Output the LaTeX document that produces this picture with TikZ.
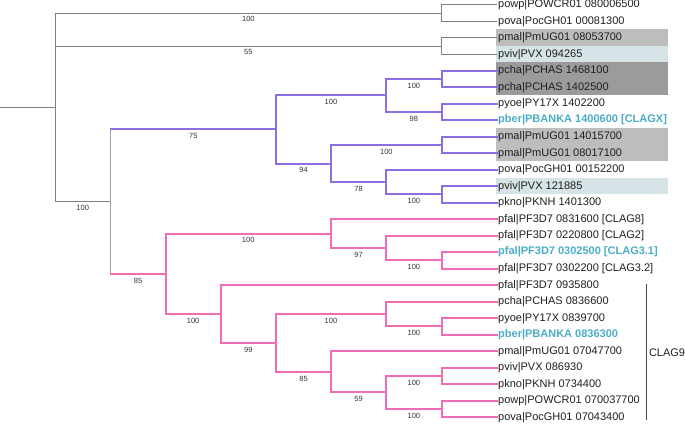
\documentclass[tikz,border=0pt]{standalone}
\usepackage{fontspec}
\setmainfont{Liberation Sans}
\definecolor{clpurple}{HTML}{8B6FE3}
\definecolor{clpink}{HTML}{F06DB6}
\definecolor{clcyan}{HTML}{4AADC6}
\definecolor{clgrayline}{HTML}{808080}
\definecolor{clgraylight}{HTML}{A0A0A0}
\definecolor{boxgray}{HTML}{BDBDBD}
\definecolor{boxdark}{HTML}{9B9B9B}
\definecolor{boxblue}{HTML}{D6E4E7}
\begin{document}
\begin{tikzpicture}[x=1pt,y=-1pt,line cap=rect,
 leaf/.style={anchor=west, inner sep=1pt, font=\fontsize{11}{13}\selectfont, text=black!88},
 hl/.style={leaf, text=clcyan, font=\fontsize{11}{13}\selectfont\bfseries},
 sup/.style={below, inner sep=3pt, font=\fontsize{7.5}{9}\selectfont, text=black!80},
 gr/.style={draw=clgrayline, line width=0.9pt},
 grl/.style={draw=clgraylight, line width=1.4pt},
 pu/.style={draw=clpurple, line width=2pt},
 pk/.style={draw=clpink, line width=2pt}
]
\useasboundingbox (0,0) rectangle (685,423);
% background boxes
\fill[boxgray] (495.7,29.45) rectangle (668.3,45.95);
\fill[boxblue] (495.7,45.95) rectangle (668.3,62.45);
\fill[boxdark] (495.7,62.45) rectangle (668.3,95.45);
\fill[boxgray] (495.7,128.45) rectangle (668.3,161.45);
\fill[boxblue] (495.7,177.95) rectangle (668.3,194.45);
% leaves
\node[leaf] (l0) at (497,4.7) {powp|POWCR01 080006500};
\node[leaf] (l1) at (497,21.2) {pova|PocGH01 00081300};
\node[leaf] (l2) at (497,37.7) {pmal|PmUG01 08053700};
\node[leaf] (l3) at (497,54.2) {pviv|PVX 094265};
\node[leaf] (l4) at (497,70.7) {pcha|PCHAS 1468100};
\node[leaf] (l5) at (497,87.2) {pcha|PCHAS 1402500};
\node[leaf] (l6) at (497,103.7) {pyoe|PY17X 1402200};
\node[hl] (l7) at (497,120.2) {pber|PBANKA 1400600 [CLAGX]};
\node[leaf] (l8) at (497,136.7) {pmal|PmUG01 14015700};
\node[leaf] (l9) at (497,153.2) {pmal|PmUG01 08017100};
\node[leaf] (l10) at (497,169.7) {pova|PocGH01 00152200};
\node[leaf] (l11) at (497,186.2) {pviv|PVX 121885};
\node[leaf] (l12) at (497,202.7) {pkno|PKNH 1401300};
\node[leaf] (l13) at (497,219.2) {pfal|PF3D7 0831600 [CLAG8]};
\node[leaf] (l14) at (497,235.7) {pfal|PF3D7 0220800 [CLAG2]};
\node[hl] (l15) at (497,252.2) {pfal|PF3D7 0302500 [CLAG3.1]};
\node[leaf] (l16) at (497,268.7) {pfal|PF3D7 0302200 [CLAG3.2]};
\node[leaf] (l17) at (497,285.2) {pfal|PF3D7 0935800};
\node[leaf] (l18) at (497,301.7) {pcha|PCHAS 0836600};
\node[leaf] (l19) at (497,318.2) {pyoe|PY17X 0839700};
\node[hl] (l20) at (497,334.7) {pber|PBANKA 0836300};
\node[leaf] (l21) at (497,351.2) {pmal|PmUG01 07047700};
\node[leaf] (l22) at (497,367.7) {pviv|PVX 086930};
\node[leaf] (l23) at (497,384.2) {pkno|PKNH 0734400};
\node[leaf] (l24) at (497,400.7) {powp|POWCR01 070037700};
\node[leaf] (l25) at (497,417.2) {pova|PocGH01 07043400};
% CLAG9 bracket
\coordinate (bt) at (646.7,284);
\coordinate (bb) at (646.7,420);
\draw[draw=black!70, line width=0.9pt, line cap=butt] (bt) -- (bb);
\node[anchor=west, inner sep=0pt, font=\fontsize{11}{13}\selectfont, text=black!88] (clag9) at (648.8,352.3) {CLAG9};
% internal nodes
\coordinate (r0) at (0,107.31);
\coordinate (root) at (55,107.31);
\coordinate (nA) at (441.7,12.95);
\coordinate (nB) at (441.7,45.95);
\coordinate (nC) at (110.5,201.67);
\coordinate (nP) at (276,129.48);
\coordinate (nP1) at (386,95.45);
\coordinate (nP1a) at (441.7,78.95);
\coordinate (nP1b) at (441.7,111.95);
\coordinate (nP2) at (331,163.51);
\coordinate (nP2a) at (441.7,144.95);
\coordinate (nP2b) at (386,182.075);
\coordinate (nP2c) at (441.7,194.45);
\coordinate (nK) at (165.5,273.86);
\coordinate (nK1) at (331,233.64);
\coordinate (nK1a) at (386,248.075);
\coordinate (nK1b) at (441.7,260.45);
\coordinate (nK2) at (220.7,314.075);
\coordinate (nK3) at (276,342.95);
\coordinate (nK4) at (386,314.075);
\coordinate (nK4a) at (441.7,326.45);
\coordinate (nK5) at (331,371.825);
\coordinate (nK6) at (386,392.45);
\coordinate (nK6a) at (441.7,375.95);
\coordinate (nK6b) at (441.7,408.95);
% gray part
\draw[gr] (r0) -- (root);
\draw[gr] (root |- nA) -- (root |- nC);
\draw[gr] (root |- nA) -- node[sup]{100} (nA);
\draw[gr] (root |- nB) -- node[sup]{55} (nB);
\draw[gr] (root |- nC) -- node[sup]{100} (nC);
\draw[gr] (nA |- l0.west) -- (nA |- l1.west);
\draw[gr] (nA |- l0.west) -- (l0.west);
\draw[gr] (nA |- l1.west) -- (l1.west);
\draw[gr] (nB |- l2.west) -- (nB |- l3.west);
\draw[gr] (nB |- l2.west) -- (l2.west);
\draw[gr] (nB |- l3.west) -- (l3.west);
\draw[grl] (nC |- nP) -- (nC |- nK);
% purple clade
\draw[pu] (nC |- nP) -- node[sup]{75} (nP);
\draw[pu] (nP |- nP1) -- (nP |- nP2);
\draw[pu] (nP |- nP1) -- node[sup]{100} (nP1);
\draw[pu] (nP |- nP2) -- node[sup]{94} (nP2);
\draw[pu] (nP1 |- nP1a) -- (nP1 |- nP1b);
\draw[pu] (nP1 |- nP1a) -- node[sup]{100} (nP1a);
\draw[pu] (nP1 |- nP1b) -- node[sup]{98} (nP1b);
\draw[pu] (nP1a |- l4.west) -- (nP1a |- l5.west);
\draw[pu] (nP1a |- l4.west) -- (l4.west);
\draw[pu] (nP1a |- l5.west) -- (l5.west);
\draw[pu] (nP1b |- l6.west) -- (nP1b |- l7.west);
\draw[pu] (nP1b |- l6.west) -- (l6.west);
\draw[pu] (nP1b |- l7.west) -- (l7.west);
\draw[pu] (nP2 |- nP2a) -- (nP2 |- nP2b);
\draw[pu] (nP2 |- nP2a) -- node[sup]{100} (nP2a);
\draw[pu] (nP2 |- nP2b) -- node[sup]{78} (nP2b);
\draw[pu] (nP2a |- l8.west) -- (nP2a |- l9.west);
\draw[pu] (nP2a |- l8.west) -- (l8.west);
\draw[pu] (nP2a |- l9.west) -- (l9.west);
\draw[pu] (nP2b |- l10.west) -- (nP2b |- nP2c);
\draw[pu] (nP2b |- l10.west) -- (l10.west);
\draw[pu] (nP2b |- nP2c) -- node[sup]{100} (nP2c);
\draw[pu] (nP2c |- l11.west) -- (nP2c |- l12.west);
\draw[pu] (nP2c |- l11.west) -- (l11.west);
\draw[pu] (nP2c |- l12.west) -- (l12.west);
% pink clade
\draw[pk] (nC |- nK) -- node[sup]{85} (nK);
\draw[pk] (nK |- nK1) -- (nK |- nK2);
\draw[pk] (nK |- nK1) -- node[sup]{100} (nK1);
\draw[pk] (nK |- nK2) -- node[sup]{100} (nK2);
\draw[pk] (nK1 |- l13.west) -- (nK1 |- nK1a);
\draw[pk] (nK1 |- l13.west) -- (l13.west);
\draw[pk] (nK1 |- nK1a) -- node[sup]{97} (nK1a);
\draw[pk] (nK1a |- l14.west) -- (nK1a |- nK1b);
\draw[pk] (nK1a |- l14.west) -- (l14.west);
\draw[pk] (nK1a |- nK1b) -- node[sup]{100} (nK1b);
\draw[pk] (nK1b |- l15.west) -- (nK1b |- l16.west);
\draw[pk] (nK1b |- l15.west) -- (l15.west);
\draw[pk] (nK1b |- l16.west) -- (l16.west);
\draw[pk] (nK2 |- l17.west) -- (nK2 |- nK3);
\draw[pk] (nK2 |- l17.west) -- (l17.west);
\draw[pk] (nK2 |- nK3) -- node[sup]{99} (nK3);
\draw[pk] (nK3 |- nK4) -- (nK3 |- nK5);
\draw[pk] (nK3 |- nK4) -- node[sup]{100} (nK4);
\draw[pk] (nK3 |- nK5) -- node[sup]{85} (nK5);
\draw[pk] (nK4 |- l18.west) -- (nK4 |- nK4a);
\draw[pk] (nK4 |- l18.west) -- (l18.west);
\draw[pk] (nK4 |- nK4a) -- node[sup]{100} (nK4a);
\draw[pk] (nK4a |- l19.west) -- (nK4a |- l20.west);
\draw[pk] (nK4a |- l19.west) -- (l19.west);
\draw[pk] (nK4a |- l20.west) -- (l20.west);
\draw[pk] (nK5 |- l21.west) -- (nK5 |- nK6);
\draw[pk] (nK5 |- l21.west) -- (l21.west);
\draw[pk] (nK5 |- nK6) -- node[sup]{59} (nK6);
\draw[pk] (nK6 |- nK6a) -- (nK6 |- nK6b);
\draw[pk] (nK6 |- nK6a) -- node[sup]{100} (nK6a);
\draw[pk] (nK6 |- nK6b) -- node[sup]{100} (nK6b);
\draw[pk] (nK6a |- l22.west) -- (nK6a |- l23.west);
\draw[pk] (nK6a |- l22.west) -- (l22.west);
\draw[pk] (nK6a |- l23.west) -- (l23.west);
\draw[pk] (nK6b |- l24.west) -- (nK6b |- l25.west);
\draw[pk] (nK6b |- l24.west) -- (l24.west);
\draw[pk] (nK6b |- l25.west) -- (l25.west);
\end{tikzpicture}
\end{document}
